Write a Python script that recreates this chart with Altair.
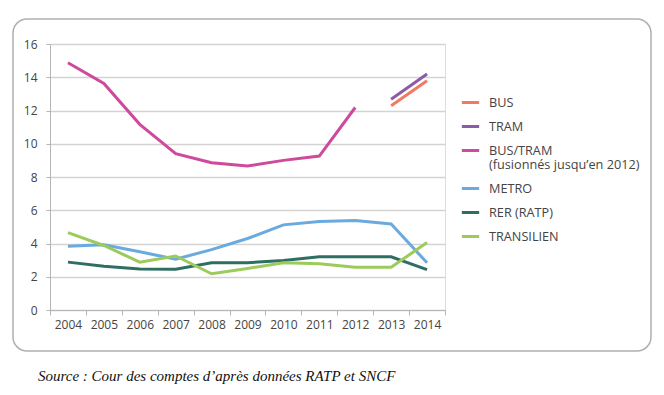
import altair as alt
import pandas as pd

years = [2004, 2005, 2006, 2007, 2008, 2009, 2010, 2011, 2012, 2013, 2014]
bus = [None] * 9 + [12.28, 13.79]
tram = [None] * 9 + [12.68, 14.19]
bus_tram = [14.87, 13.63, 11.17, 9.4, 8.86, 8.66, 9.0, 9.26, 12.18, None, None]
metro = [3.84, 3.92, 3.5, 3.06, 3.63, 4.3, 5.12, 5.33, 5.39, 5.18, 2.84]
rer = [2.88, 2.63, 2.47, 2.45, 2.84, 2.84, 2.98, 3.2, 3.2, 3.2, 2.43]
transilien = [4.65, 3.88, 2.88, 3.25, 2.18, 2.5, 2.84, 2.78, 2.57, 2.57, 4.06]

series_names = ["BUS", "TRAM", "BUS/TRAM", "METRO", "RER (RATP)", "TRANSILIEN"]
series_values = [bus, tram, bus_tram, metro, rer, transilien]
series_colors = ["#ef7c62", "#8d5aa6", "#cd4a9c", "#6aaade", "#2f6f63", "#9dcb5b"]

rows = []
for name, vals in zip(series_names, series_values):
    for y, v in zip(years, vals):
        if v is not None:
            rows.append({"year": str(y), "series": name, "value": v})
df = pd.DataFrame(rows)

FONT = "Open Sans"

lines = alt.Chart(df).mark_line(strokeWidth=3).encode(
    x=alt.X("year:O", title=None,
            scale=alt.Scale(type="band", paddingInner=0, paddingOuter=0),
            axis=alt.Axis(labelAngle=0, tickBand="extent", grid=False,
                          domainColor="#b5b5b5", tickColor="#b5b5b5",
                          tickSize=5, labelPadding=4, labelFontSize=12,
                          labelFont=FONT, labelColor="#444")),
    y=alt.Y("value:Q", title=None,
            scale=alt.Scale(domain=[0, 16], nice=False),
            axis=alt.Axis(values=[0, 2, 4, 6, 8, 10, 12, 14, 16],
                          gridColor="#d3d3d3", gridWidth=1.5,
                          domainColor="#b5b5b5", tickColor="#b5b5b5",
                          tickSize=4, labelPadding=9, labelFontSize=12,
                          labelFont=FONT, labelColor="#444")),
    color=alt.Color("series:N", title=None,
                    scale=alt.Scale(domain=series_names, range=series_colors),
                    legend=alt.Legend(
                        orient="none", legendX=410, legendY=48,
                        symbolType="stroke", symbolStrokeWidth=3,
                        symbolSize=300, labelFontSize=12.7, labelFont=FONT,
                        labelColor="#444", rowPadding=6, labelOffset=8,
                        labelLimit=300,
                        labelExpr="datum.label == 'BUS/TRAM' ? ['BUS/TRAM', '(fusionnés jusqu’en 2012)'] : datum.label")),
    detail="series:N",
)

box = alt.Chart(alt.Data(values=[{}])).mark_rect(
    fill=None, fillOpacity=0, stroke="#b0b0b0", strokeWidth=1.5, cornerRadius=14
).encode(x=alt.value(-37), x2=alt.value(601), y=alt.value(-25), y2=alt.value(307))

source = alt.Chart(alt.Data(values=[{}])).mark_text(
    text="Source : Cour des comptes d’après données RATP et SNCF",
    font="Liberation Serif", fontStyle="italic", fontSize=15, align="left",
    baseline="alphabetic", color="#111"
).encode(x=alt.value(-12), y=alt.value(337))

chart = alt.layer(box, lines, source).properties(
    width=395, height=266,
    autosize=alt.AutoSizeParams(type="none"),
    padding={"left": 42, "top": 36, "right": 211, "bottom": 77},
).configure_view(stroke=None).configure(background="white")

chart.save("out.html", embed_options={"renderer": "svg", "actions": False})
